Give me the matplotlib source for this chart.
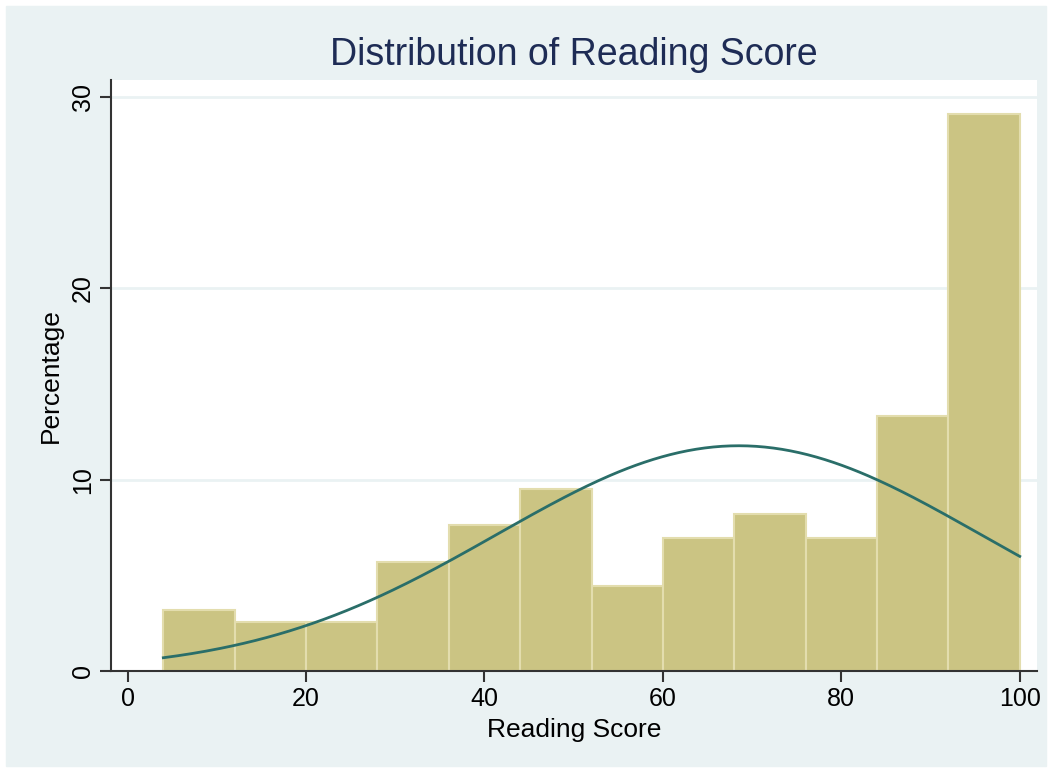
import matplotlib.pyplot as plt
import numpy as np
from matplotlib.patches import Rectangle

plt.rcParams['font.family'] = ['Liberation Sans', 'DejaVu Sans']

# histogram bins (width 8) and percentages
bin_edges = [4, 12, 20, 28, 36, 44, 52, 60, 68, 76, 84, 92, 100]
percent = [3.2, 2.55, 2.55, 5.7, 7.63, 9.51, 4.45, 6.97, 8.23, 6.97, 13.33, 29.1]

# normal overlay: fitted mean / sd of the reading score
score_mean = 68.5
score_sd = 27.1

fig = plt.figure(figsize=(10.52, 7.72), dpi=100, facecolor='white')
fig.patches.append(Rectangle((6 / 1052, 6 / 772), 1040 / 1052, 760 / 772,
                             transform=fig.transFigure, color='#EAF2F3', zorder=0))

ax = fig.add_axes([110.7 / 1052, 101 / 772, 926 / 1052, 591 / 772])
ax.set_zorder(2)
ax.set_facecolor('white')

widths = np.diff(bin_edges)
ax.bar(bin_edges[:-1], percent, width=widths, align='edge',
       color='#CBC483', edgecolor='#E3DDAE', linewidth=1.5, zorder=2)

bw = widths[0]
xs = np.linspace(bin_edges[0], bin_edges[-1], 300)
ys = 100 * bw / (score_sd * np.sqrt(2 * np.pi)) * np.exp(-0.5 * ((xs - score_mean) / score_sd) ** 2)
ax.plot(xs, ys, color='#2A6E69', linewidth=2, zorder=3)

ax.set_xlim(-1.9, 101.9)
ax.set_ylim(0, 30.9)
ax.set_xticks([0, 20, 40, 60, 80, 100])
ax.set_yticks([0, 10, 20, 30])
ax.yaxis.grid(True, color='#EAF2F3', linewidth=2)
ax.set_axisbelow(True)

for s in ['top', 'right']:
    ax.spines[s].set_visible(False)
for s in ['left', 'bottom']:
    ax.spines[s].set_color('#333333')
    ax.spines[s].set_linewidth(1.5)
    ax.spines[s].set_zorder(4)

ax.tick_params(axis='both', colors='#333333', labelcolor='black', labelsize=18,
               width=1.5, length=8, direction='out')
ax.tick_params(axis='y', labelrotation=90)
for lbl in ax.get_yticklabels():
    lbl.set_va('center')

ax.set_xlabel('Reading Score', fontsize=19, labelpad=5)
ax.set_ylabel('Percentage', fontsize=19, labelpad=6)
fig.text(0.545, 0.929, 'Distribution of Reading Score', ha='center', va='center',
         fontsize=27, color='#1E2C55')

fig.savefig('out.png', dpi=100, facecolor=fig.get_facecolor())
